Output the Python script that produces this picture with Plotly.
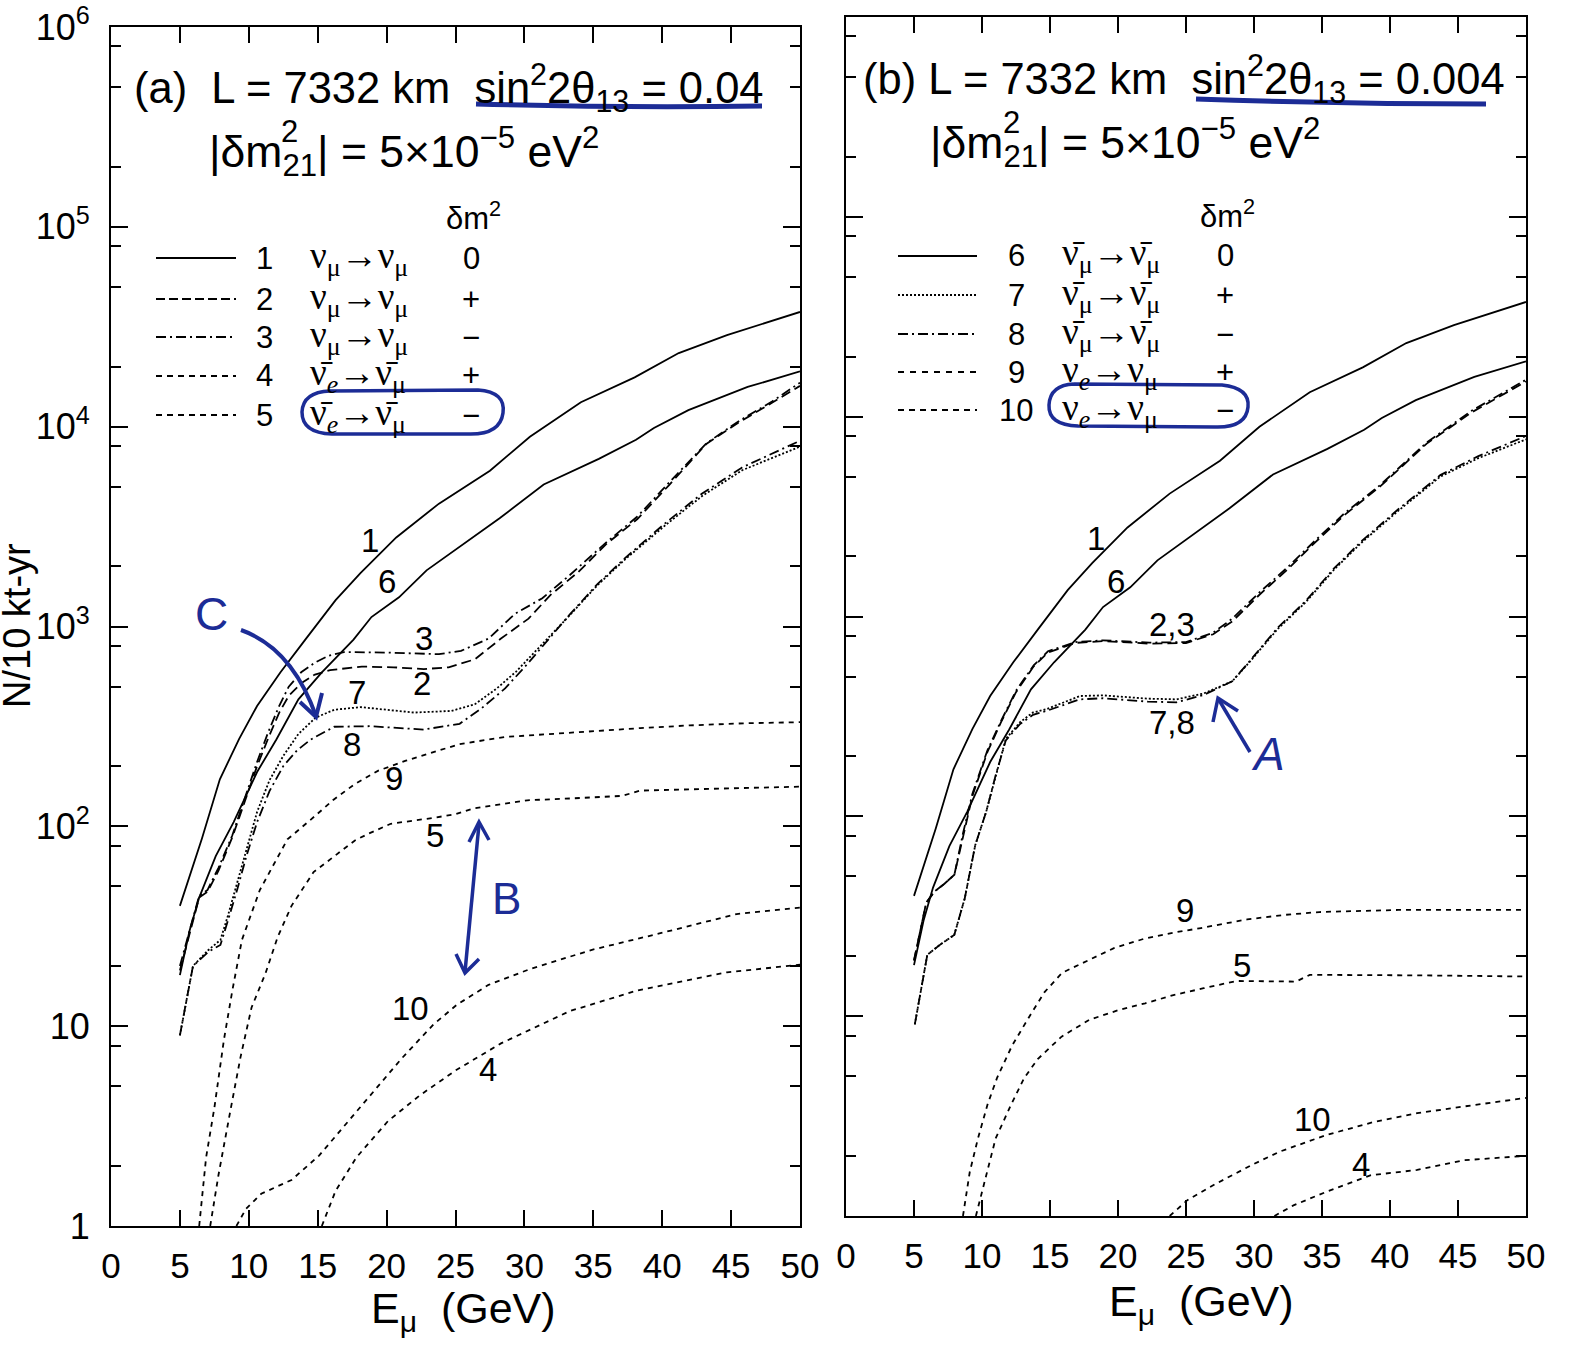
import plotly.graph_objects as go

W, H = 1577, 1345
SANS = "Liberation Sans, Arial, sans-serif"
SERIF = "Liberation Serif, Times New Roman, serif"
BLUE = "rgb(28,44,150)"

# ---------------- data ----------------
# no-oscillation curves (identical in both panels)
E1 = [5, 6.6, 7.9, 9.3, 10.6, 12.3, 14.1, 16.3, 18.1, 20.7, 23.8, 27.5, 30.4, 34.1, 38.0, 41.2, 44.7, 50]
N1 = [40, 87, 172, 274, 400, 590, 860, 1355, 1850, 2790, 4120, 6020, 8900, 13250, 17650, 23350, 28700, 37500]
E6 = [5, 5.7, 6.4, 7.6, 8.9, 10.6, 12.0, 13.6, 15.3, 17.6, 18.9, 20.9, 22.9, 25.9, 28.2, 31.4, 35.4, 38.1, 39.4, 41.9, 46.2, 50]
N6 = [18, 30, 44, 71, 105, 187, 272, 432, 590, 860, 1115, 1400, 1910, 2680, 3480, 5140, 6900, 8600, 9850, 12100, 15800, 18900]

# panel (a): sin^2 2theta13 = 0.04
E2a = [5, 5.8, 6.4, 7.0, 7.8, 8.8, 9.8, 10.6, 11.4, 12.2, 12.9, 13.8, 14.8, 15.9, 18.2, 20.5, 22.7, 24.5, 26.4, 28.3, 30.3, 31.9, 33.9, 35.9, 38.2, 40.5, 43.2, 45.6, 48.0, 50]
N2a = [19, 31, 44, 47, 60, 88, 140, 200, 275, 370, 450, 520, 575, 605, 630, 625, 612, 625, 685, 870, 1095, 1440, 1870, 2570, 3450, 5100, 8200, 10550, 13200, 16000]
E3a = [5, 5.8, 6.4, 7.0, 7.8, 8.8, 9.8, 10.6, 11.4, 12.2, 12.9, 13.8, 14.8, 15.8, 16.9, 20.2, 23.8, 25.4, 27.4, 29.3, 31.3, 33.3, 35.9, 38.2, 40.5, 43.2, 45.6, 48.0, 50]
N3a = [20, 32, 45, 48, 62, 90, 145, 210, 295, 400, 500, 590, 660, 715, 745, 740, 727, 755, 870, 1155, 1385, 1810, 2620, 3550, 5250, 8250, 10700, 13400, 16600]
E7a = [5, 5.95, 7.05, 7.94, 8.5, 9.15, 9.83, 10.6, 11.5, 12.5, 13.6, 14.85, 16.2, 18.1, 22.0, 24.7, 26.4, 28.0, 29.4, 31.0, 33.3, 35.3, 37.3, 40.2, 42.9, 45.8, 50]
N7a = [9, 20, 24, 27, 36, 52, 78, 118, 170, 225, 290, 350, 383, 395, 371, 378, 408, 490, 595, 775, 1140, 1610, 2165, 3200, 4500, 6050, 7950]
E8a = [5, 5.95, 7.05, 7.94, 8.5, 9.15, 9.83, 10.6, 11.5, 12.5, 13.5, 14.5, 16.2, 18.8, 22.7, 25.3, 26.9, 28.6, 30.2, 31.8, 33.3, 35.3, 37.3, 40.2, 42.9, 45.8, 50]
N8a = [9, 20, 23.5, 25.5, 34, 48, 71, 105, 150, 200, 240, 272, 315, 317, 305, 326, 390, 490, 647, 870, 1150, 1630, 2200, 3280, 4630, 6250, 8500]
E9a = [6.4, 6.9, 7.5, 8.2, 8.8, 9.5, 10.8, 12.8, 14.5, 16.1, 17.7, 19.4, 21.4, 23.3, 25.3, 28.6, 31.8, 35.0, 38.4, 42.0, 46.0, 50]
N9a = [1, 2.2, 3.9, 8.6, 15, 27, 48, 86, 108, 135, 163, 190, 213, 233, 258, 280, 290, 300, 310, 320, 328, 332]
E5a = [7.2, 7.8, 8.7, 9.4, 10.2, 11.2, 12.1, 13.1, 14.7, 17.7, 18.7, 20.3, 23.3, 25.0, 26.3, 30.2, 33.5, 37.1, 38.4, 42.0, 46.0, 50]
N5a = [1, 1.8, 3.9, 7, 12.4, 18.3, 28, 40, 59, 85, 92, 103, 110, 115, 123, 135, 138, 142, 151, 153, 155, 158]
E10a = [9.1, 9.8, 10.9, 13.1, 15.1, 17.1, 19.1, 21.1, 23.4, 25.1, 27.4, 30.4, 34.9, 39.8, 45.4, 50]
N10a = [1, 1.22, 1.45, 1.7, 2.25, 3.25, 4.75, 6.9, 10.2, 12.8, 16.1, 19.3, 24.1, 29.1, 36.4, 39.2]
E4a = [15.3, 16.3, 17.8, 20.1, 22.4, 25.0, 28.3, 33.3, 38.2, 44.7, 50]
N4a = [1, 1.5, 2.2, 3.35, 4.5, 6.0, 8.2, 11.9, 15.1, 18.6, 20.3]

# panel (b): sin^2 2theta13 = 0.004
E23b = [5, 5.6, 5.9, 6.5, 7.24, 7.97, 8.6, 9.3, 9.65, 10.4, 11.4, 12.5, 13.8, 14.85, 16.9, 18.9, 22.3, 25.0, 27.0, 28.4, 30.4, 32.5, 34.5, 36.6, 39.3, 42.7, 46.0, 50]
N2b = [19, 30, 37, 42, 46, 51, 80, 127, 149, 210, 296, 418, 563, 661, 738, 753, 732, 737, 815, 945, 1285, 1728, 2350, 3197, 4490, 7330, 10500, 15000]
N3b = [19, 30, 37, 42, 46, 51, 82, 130, 152, 214, 300, 425, 570, 670, 745, 760, 740, 745, 830, 975, 1320, 1770, 2400, 3260, 4560, 7420, 10700, 15300]
E78b = [5.06, 5.98, 7.0, 7.96, 8.73, 9.5, 10.3, 11.0, 11.75, 12.8, 13.75, 14.8, 17.2, 18.9, 22.2, 24.3, 26.3, 28.4, 29.7, 31.75, 33.8, 35.9, 37.9, 40.65, 43.7, 46.5, 50]
N7b = [9.1, 20.3, 23, 25.5, 38.8, 71.6, 105, 160, 244, 296, 331, 345, 400, 403, 388, 385, 412, 474, 595, 867, 1178, 1720, 2340, 3400, 5010, 6200, 7700]
N8b = [9.1, 20.3, 23, 25.5, 38.8, 71.6, 105, 160, 240, 290, 322, 338, 385, 390, 375, 372, 405, 474, 600, 880, 1195, 1745, 2380, 3460, 5100, 6350, 8000]
E9b = [8.6, 9.1, 9.7, 10.4, 11.1, 12.2, 13.5, 14.6, 15.9, 18.0, 19.7, 22.0, 24.1, 26.1, 29.5, 32.2, 34.8, 40.6, 50]
N9b = [1.0, 1.66, 2.44, 3.6, 4.9, 7.1, 10, 13.2, 16.5, 19.2, 21.9, 24.5, 26.2, 27.6, 30.5, 32.1, 33.2, 34, 34]
E5b = [9.55, 10.4, 11.0, 12.1, 13.1, 14.1, 15.85, 17.9, 20.0, 22.0, 24.0, 26.3, 28.7, 33.1, 34.1, 42.2, 50]
N5b = [1.0, 1.66, 2.44, 3.56, 4.9, 6.1, 7.9, 9.6, 10.7, 11.6, 12.7, 13.8, 15, 14.9, 16.1, 16, 15.8]
E10b = [23.8, 25.1, 27.2, 29.9, 31.9, 35.3, 38.7, 42.0, 45.4, 50]
N10b = [1.0, 1.2, 1.45, 1.81, 2.1, 2.54, 2.94, 3.27, 3.53, 3.9]
E4b = [31.5, 32.9, 35.3, 38.6, 42.0, 45.4, 50]
N4b = [1.0, 1.13, 1.32, 1.6, 1.7, 1.9, 2.0]

X_TICKS = [0, 5, 10, 15, 20, 25, 30, 35, 40, 45, 50]
Y_TICKS = [1, 10, 100, 1000, 10000, 100000, 1000000]
Y_TICKTEXT = ["1", "10", "10<sup>2</sup>", "10<sup>3</sup>", "10<sup>4</sup>", "10<sup>5</sup>", "10<sup>6</sup>"]
Y_MINOR = [m * d for d in [1, 10, 100, 1000, 10000, 100000] for m in (2, 5, 8)]

LEG_A = [("1", "ν<sub>μ</sub>→ν<sub>μ</sub>", "0"),
         ("2", "ν<sub>μ</sub>→ν<sub>μ</sub>", "+"),
         ("3", "ν<sub>μ</sub>→ν<sub>μ</sub>", "−"),
         ("4", "ν\u0304<sub><i>e</i></sub>→ν\u0304<sub>μ</sub>", "+"),
         ("5", "ν\u0304<sub><i>e</i></sub>→ν\u0304<sub>μ</sub>", "−")]
LEG_B = [("6", "ν\u0304<sub>μ</sub>→ν\u0304<sub>μ</sub>", "0"),
         ("7", "ν\u0304<sub>μ</sub>→ν\u0304<sub>μ</sub>", "+"),
         ("8", "ν\u0304<sub>μ</sub>→ν\u0304<sub>μ</sub>", "−"),
         ("9", "ν<sub><i>e</i></sub>→ν<sub>μ</sub>", "+"),
         ("10", "ν<sub><i>e</i></sub>→ν<sub>μ</sub>", "−")]

# ---------------- styles ----------------
SOLID = "solid"
DASH = "10px,5px"
DASHDOT = "10px,4px,2px,4px"
SHORT = "5px,5px"
DOT = "2px,2px"
LW = 1.8


def X(p):
    return p / W


def Y(p):
    return 1 - p / H


fig = go.Figure()


def add(E, N, dash, panel):
    xa, ya = ("x", "y") if panel == "a" else ("x2", "y2")
    fig.add_trace(go.Scatter(x=E, y=N, mode="lines", xaxis=xa, yaxis=ya,
                             line=dict(color="black", width=LW, dash=dash),
                             hoverinfo="skip", showlegend=False))


for p in ("a", "b"):
    add(E1, N1, SOLID, p)
    add(E6, N6, SOLID, p)
add(E2a, N2a, DASH, "a")
add(E3a, N3a, DASHDOT, "a")
add(E7a, N7a, DOT, "a")
add(E8a, N8a, DASHDOT, "a")
add(E9a, N9a, SHORT, "a")
add(E5a, N5a, SHORT, "a")
add(E10a, N10a, SHORT, "a")
add(E4a, N4a, SHORT, "a")
add(E23b, N2b, DASH, "b")
add(E23b, N3b, DASHDOT, "b")
add(E78b, N7b, DOT, "b")
add(E78b, N8b, DASHDOT, "b")
add(E9b, N9b, SHORT, "b")
add(E5b, N5b, SHORT, "b")
add(E10b, N10b, SHORT, "b")
add(E4b, N4b, SHORT, "b")

xax = dict(range=[0, 50], tickmode="array", tickvals=X_TICKS, ticks="inside", ticklen=16,
           tickwidth=2, tickcolor="black", showline=True, linewidth=2, linecolor="black",
           mirror="ticks", showgrid=False, zeroline=False, automargin=False,
           tickfont=dict(family=SANS, size=35, color="black"), ticklabelstandoff=8)
yax = dict(type="log", range=[0, 6], tickmode="array", tickvals=Y_TICKS, ticktext=Y_TICKTEXT,
           ticks="inside", ticklen=17, tickwidth=2, tickcolor="black", showline=True,
           linewidth=2, linecolor="black", mirror="ticks", showgrid=False, zeroline=False,
           automargin=False,
           tickfont=dict(family=SANS, size=36, color="black"), ticklabelstandoff=12,
           minor=dict(tickmode="array", tickvals=Y_MINOR, ticks="inside", ticklen=10,
                      tickwidth=2, tickcolor="black", showgrid=False))

fig.update_layout(
    width=W, height=H, margin=dict(l=0, r=0, t=0, b=0, autoexpand=False),
    paper_bgcolor="white", plot_bgcolor="white", showlegend=False,
    xaxis=dict(xax, domain=[X(111), X(800)], anchor="y"),
    yaxis=dict(yax, domain=[Y(1226), Y(27)], anchor="x"),
    xaxis2=dict(xax, domain=[X(846), X(1526)], anchor="y2"),
    yaxis2=dict(yax, domain=[Y(1216), Y(17)], anchor="x2", showticklabels=False),
)

ann = []


def txt(x, y, s, size, xanchor="center", yanchor="middle", color="black", family=SANS, **kw):
    ann.append(dict(x=X(x), y=Y(y), xref="paper", yref="paper", text=s, showarrow=False,
                    xanchor=xanchor, yanchor=yanchor,
                    font=dict(family=family, size=size, color=color), **kw))


NB = "\u00a0"
# titles
txt(132, 88, "(a)" + NB * 2 + "L = 7332 km" + NB * 2 + "sin<sup>2</sup>2θ<sub>13</sub> = 0.04", 43.5, xanchor="left")
txt(207, 152, "|δm<sub>21</sub>| = 5×10<sup>−5</sup> eV<sup>2</sup>", 44.5, xanchor="left")
txt(289, 131, "2", 31)
txt(861, 79, "(b) L = 7332 km" + NB * 2 + "sin<sup>2</sup>2θ<sub>13</sub> = 0.004", 43.5, xanchor="left")
txt(928, 143, "|δm<sub>21</sub>| = 5×10<sup>−5</sup> eV<sup>2</sup>", 44.5, xanchor="left")
txt(1011, 122, "2", 31)

# axis titles
txt(463, 1311, "E<sub>μ</sub>" + NB * 2 + "(GeV)", 43)
txt(1201, 1304, "E<sub>μ</sub>" + NB * 2 + "(GeV)", 43)
txt(17, 626, "N/10 kt-yr", 38, textangle=-90)

# legends
shapes = []


def seg(x0, y0, x1, y1, dash, width=LW, color="black"):
    shapes.append(dict(type="line", xref="paper", yref="paper", x0=X(x0), y0=Y(y0), x1=X(x1), y1=Y(y1),
                       line=dict(color=color, width=width, dash=dash)))


legA_dash = [SOLID, "9px,4px", DASHDOT, "6px,5px", "6px,5px"]
legB_dash = [SOLID, DOT, DASHDOT, "6px,6px", "6px,5px"]
rowsA = [258, 299, 337, 376, 415]
rowsB = [256, 295, 334, 372, 410]
txt(473, 216, "δm<sup>2</sup>", 31)
txt(1227, 214, "δm<sup>2</sup>", 31)
for (num, rx, sg), yy, d in zip(LEG_A, rowsA, legA_dash):
    seg(156, yy, 236, yy, d)
    txt(264, yy, num, 31)
    txt(308, yy, rx, 37, xanchor="left", family=SERIF)
    txt(471, yy, sg, 31)
for (num, rx, sg), yy, d in zip(LEG_B, rowsB, legB_dash):
    seg(898, yy, 977, yy, d)
    txt(1016, yy, num, 31)
    txt(1060, yy, rx, 37, xanchor="left", family=SERIF)
    txt(1225, yy, sg, 31)

# curve labels
for s, x, y in [("1", 370, 540), ("6", 387, 581), ("3", 424, 639), ("2", 422, 684), ("7", 357, 692),
                ("8", 352, 744), ("9", 394, 779), ("5", 435, 835), ("10", 410, 1009), ("4", 488, 1069),
                ("1", 1096, 538), ("6", 1116, 581), ("2,3", 1172, 624), ("7,8", 1172, 722),
                ("9", 1185, 910), ("5", 1242, 965), ("10", 1312, 1119), ("4", 1361, 1164)]:
    txt(x, y, s, 33)

# handwritten blue marks
def path(cmds, width=4):
    parts = []
    for c in cmds:
        op = c[0]
        nums = c[1:]
        coords = []
        for i in range(0, len(nums), 2):
            coords.append(f"{X(nums[i]):.5f},{Y(nums[i + 1]):.5f}")
        parts.append(op + " " + " ".join(coords))
    shapes.append(dict(type="path", xref="paper", yref="paper", path=" ".join(parts),
                       line=dict(color=BLUE, width=width)))


path([("M", 476, 104), ("Q", 620, 108, 762, 106)], 5)
path([("M", 1196, 99), ("Q", 1340, 104, 1486, 104)], 5)
path([("M", 330, 391), ("L", 478, 390), ("Q", 506, 392, 503, 413), ("Q", 500, 435, 468, 434),
      ("L", 332, 434), ("Q", 302, 433, 302, 412), ("Q", 303, 392, 330, 391)], 3.5)
path([("M", 1074, 384), ("L", 1222, 385), ("Q", 1250, 388, 1248, 407), ("Q", 1246, 428, 1215, 427),
      ("L", 1078, 426), ("Q", 1048, 425, 1049, 405), ("Q", 1050, 385, 1074, 384)], 3.5)
# C arrow
path([("M", 241, 630), ("Q", 292, 648, 316, 716)], 4)
path([("M", 300, 702), ("L", 316, 717), ("L", 322, 693)], 4)
txt(212, 614, "C", 46, color=BLUE)
# B double arrow
path([("M", 479, 824), ("L", 465, 972)], 3.5)
path([("M", 469, 842), ("L", 479, 822), ("L", 489, 840)], 3.5)
path([("M", 456, 954), ("L", 465, 973), ("L", 479, 959)], 3.5)
txt(506, 898, "B", 44, color=BLUE)
# A arrow
path([("M", 1250, 752), ("L", 1219, 700)], 3.5)
path([("M", 1213, 722), ("L", 1218, 698), ("L", 1238, 711)], 3.5)
txt(1268, 754, "<i>A</i>", 46, color=BLUE)

fig.update_layout(annotations=ann, shapes=shapes)
fig.write_html("out.html", config={"displayModeBar": False},
               post_script="document.body.style.margin='0px';document.body.style.overflow='hidden';")
